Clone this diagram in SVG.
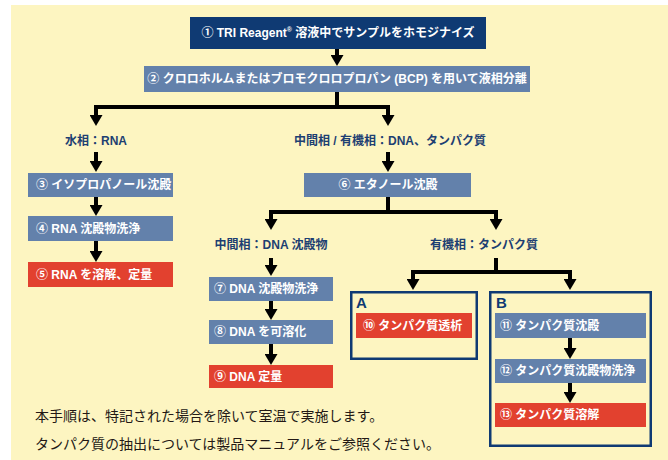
<svg xmlns="http://www.w3.org/2000/svg" width="668" height="460" viewBox="0 0 668 460">
<style>
  .bx-navy{fill:#0F3A73}
  .bx-blue{fill:#6381AB}
  .bx-red{fill:#E2412F}
  .frame{fill:none;stroke:#0F3A73;stroke-width:2.5}
  .t{font-family:"Liberation Sans","Noto Sans CJK JP",sans-serif;font-weight:bold;font-size:12px;fill:#FFFFFF;dominant-baseline:central}
  .c{text-anchor:middle}
  .lbl{font-family:"Liberation Sans","Noto Sans CJK JP",sans-serif;font-weight:bold;font-size:12px;fill:#1D3F72;dominant-baseline:central;text-anchor:middle}
  .ab{font-family:"Liberation Sans","Noto Sans CJK JP",sans-serif;font-weight:bold;font-size:15px;fill:#0F3A73}
  .note{font-family:"Noto Sans CJK JP",sans-serif;font-size:14px;fill:#231815;dominant-baseline:central}
  .cn{fill:none;stroke:#000;stroke-width:4;stroke-linejoin:miter}
</style>
<defs>
  <marker id="ah" markerUnits="userSpaceOnUse" markerWidth="11" markerHeight="13" viewBox="0 0 11 13" refX="0" refY="6.5" orient="auto-start-reverse">
    <path d="M0,0 L11,6.5 L0,13 z" fill="#000"/>
  </marker>
</defs>
<rect x="11" y="5" width="657" height="455" fill="#FDF5C1"/>

<g id="connectors">
  <path class="cn" d="M337,49 V55" marker-end="url(#ah)"/>
  <path class="cn" d="M337,92 V107"/>
  <path class="cn" d="M96,115 V107 H388 V115" marker-start="url(#ah)" marker-end="url(#ah)"/>
  <path class="cn" d="M96,152 V161" marker-end="url(#ah)"/>
  <path class="cn" d="M388,152 V161" marker-end="url(#ah)"/>
  <path class="cn" d="M96,197 V205" marker-end="url(#ah)"/>
  <path class="cn" d="M96,241 V251" marker-end="url(#ah)"/>
  <path class="cn" d="M388,197 V212"/>
  <path class="cn" d="M271,219 V212 H496 V219" marker-start="url(#ah)" marker-end="url(#ah)"/>
  <path class="cn" d="M271,258 V265" marker-end="url(#ah)"/>
  <path class="cn" d="M271,301 V309" marker-end="url(#ah)"/>
  <path class="cn" d="M271,344 V354" marker-end="url(#ah)"/>
  <path class="cn" d="M496,258 V272"/>
  <path class="cn" d="M413,279 V272 H570 V279" marker-start="url(#ah)" marker-end="url(#ah)"/>
  <path class="cn" d="M570,338 V348" marker-end="url(#ah)"/>
  <path class="cn" d="M570,383 V392" marker-end="url(#ah)"/>
</g>

<g id="n1"><rect class="bx-navy" x="190" y="17" width="296" height="32"/>
  <text class="t c" x="338" y="33">① TRI Reagent<tspan font-size="7" dy="-4">®</tspan><tspan dy="4"> 溶液中でサンプルをホモジナイズ</tspan></text></g>
<g id="n2"><rect class="bx-blue" x="144" y="66" width="386" height="26"/>
  <text class="t c" x="337" y="79">② クロロホルムまたはブロモクロロプロパン (BCP) を用いて液相分離</text></g>

<g id="lblRNA"><text class="lbl" x="96" y="141">水相：RNA</text></g>
<g id="lblDNAP"><text class="lbl" x="390" y="141">中間相 / 有機相：DNA、タンパク質</text></g>

<g id="n3"><rect class="bx-blue" x="28" y="173" width="145" height="24"/>
  <text class="t" x="36" y="185">③ イソプロパノール沈殿</text></g>
<g id="n4"><rect class="bx-blue" x="28" y="216" width="145" height="25"/>
  <text class="t" x="36" y="228.5">④ RNA 沈殿物洗浄</text></g>
<g id="n5"><rect class="bx-red" x="28" y="262" width="145" height="25"/>
  <text class="t" x="36" y="274.5">⑤ RNA を溶解、定量</text></g>

<g id="n6"><rect class="bx-blue" x="304" y="173" width="167" height="24"/>
  <text class="t c" x="388" y="185">⑥ エタノール沈殿</text></g>

<g id="lblDNA"><text class="lbl" x="271" y="245">中間相：DNA 沈殿物</text></g>
<g id="lblProt"><text class="lbl" x="484" y="245">有機相：タンパク質</text></g>

<g id="n7"><rect class="bx-blue" x="209" y="277" width="124" height="24"/>
  <text class="t" x="214" y="289">⑦ DNA 沈殿物洗浄</text></g>
<g id="n8"><rect class="bx-blue" x="209" y="320" width="124" height="24"/>
  <text class="t" x="214" y="332">⑧ DNA を可溶化</text></g>
<g id="n9"><rect class="bx-red" x="209" y="365" width="124" height="23"/>
  <text class="t" x="214" y="376.5">⑨ DNA 定量</text></g>

<g id="groupA"><rect class="frame" x="351.25" y="292.25" width="125.5" height="66.5"/>
  <text class="ab" x="356" y="308">A</text></g>
<g id="n10"><rect class="bx-red" x="356" y="313" width="116" height="25"/>
  <text class="t" x="363" y="325.5">⑩ タンパク質透析</text></g>

<g id="groupB"><rect class="frame" x="490.25" y="292.25" width="160.5" height="153.5"/>
  <text class="ab" x="496" y="308">B</text></g>
<g id="n11"><rect class="bx-blue" x="495" y="313" width="151" height="25"/>
  <text class="t" x="500" y="325.5">⑪ タンパク質沈殿</text></g>
<g id="n12"><rect class="bx-blue" x="495" y="359" width="151" height="24"/>
  <text class="t" x="500" y="371">⑫ タンパク質沈殿物洗浄</text></g>
<g id="n13"><rect class="bx-red" x="495" y="403" width="151" height="24"/>
  <text class="t" x="500" y="415">⑬ タンパク質溶解</text></g>

<g id="note">
  <text class="note" x="35" y="415">本手順は、特記された場合を除いて室温で実施します。</text>
  <text class="note" x="35" y="443">タンパク質の抽出については製品マニュアルをご参照ください。</text>
</g>
</svg>
